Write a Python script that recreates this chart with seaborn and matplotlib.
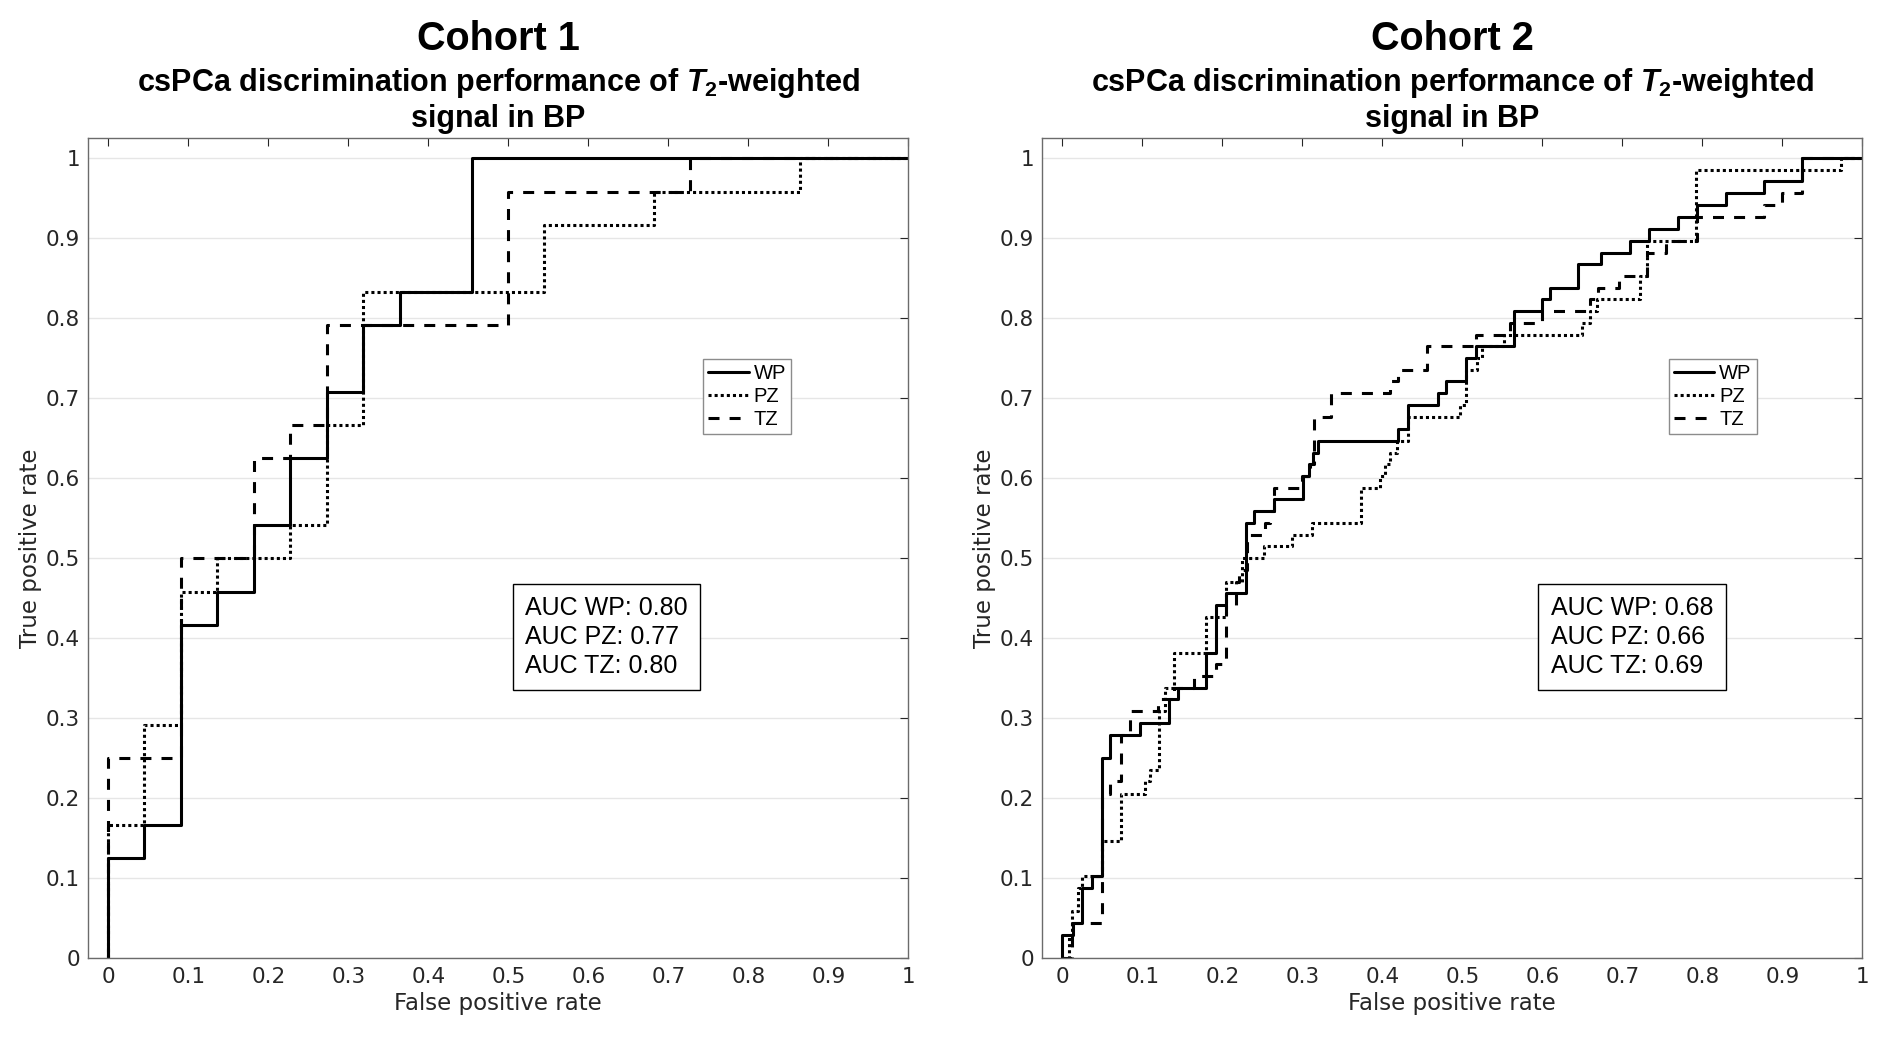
import numpy as np
import pandas as pd
import matplotlib
matplotlib.use('Agg')
import matplotlib.pyplot as plt
import seaborn as sns
from matplotlib import font_manager
from matplotlib.ticker import FuncFormatter

# ROC curves: FPR at each jump and TPR after the jump
regions = ['WP', 'PZ', 'TZ']

# Cohort 1
c1_wp_fpr = [0.0, 0.045, 0.091, 0.136, 0.182, 0.227, 0.273, 0.318, 0.364, 0.455]
c1_wp_tpr = [0.125, 0.167, 0.417, 0.458, 0.542, 0.625, 0.708, 0.792, 0.833, 1.0]
c1_pz_fpr = [0.0, 0.045, 0.091, 0.136, 0.227, 0.273, 0.318, 0.545, 0.682, 0.864]
c1_pz_tpr = [0.167, 0.292, 0.458, 0.5, 0.542, 0.667, 0.833, 0.917, 0.958, 1.0]
c1_tz_fpr = [0.0, 0.091, 0.182, 0.227, 0.273, 0.5, 0.727]
c1_tz_tpr = [0.25, 0.5, 0.625, 0.667, 0.792, 0.958, 1.0]

# Cohort 2
c2_wp_fpr = [0.0, 0.013, 0.025, 0.037, 0.049, 0.06, 0.097, 0.133, 0.145, 0.18,
             0.1925, 0.205, 0.229, 0.24, 0.265, 0.301, 0.308, 0.313, 0.32, 0.42,
             0.432, 0.469, 0.48, 0.504, 0.517, 0.565, 0.6, 0.61, 0.645, 0.673,
             0.71, 0.733, 0.77, 0.793, 0.829, 0.877, 0.925]
c2_wp_tpr = [0.029, 0.044, 0.088, 0.103, 0.25, 0.279, 0.294, 0.324, 0.338, 0.382,
             0.441, 0.456, 0.544, 0.559, 0.574, 0.603, 0.618, 0.632, 0.647, 0.662,
             0.691, 0.706, 0.721, 0.75, 0.765, 0.809, 0.824, 0.838, 0.868, 0.882,
             0.897, 0.912, 0.926, 0.941, 0.956, 0.971, 1.0]
c2_pz_fpr = [0.008, 0.012, 0.02, 0.025, 0.05, 0.073, 0.103, 0.11, 0.121, 0.128,
             0.14, 0.18, 0.204, 0.225, 0.252, 0.2875, 0.3125, 0.373, 0.397, 0.403,
             0.41, 0.418, 0.432, 0.497, 0.504, 0.518, 0.525, 0.552, 0.65, 0.66,
             0.668, 0.722, 0.731, 0.792, 0.973]
c2_pz_tpr = [0.029, 0.059, 0.088, 0.103, 0.147, 0.206, 0.221, 0.235, 0.309, 0.338,
             0.382, 0.426, 0.471, 0.5, 0.515, 0.529, 0.544, 0.588, 0.603, 0.618,
             0.632, 0.647, 0.676, 0.691, 0.735, 0.75, 0.765, 0.779, 0.794, 0.809,
             0.824, 0.853, 0.897, 0.985, 1.0]
c2_tz_fpr = [0.012, 0.049, 0.06, 0.073, 0.085, 0.12, 0.14, 0.164, 0.192, 0.204,
             0.217, 0.221, 0.231, 0.253, 0.26, 0.265, 0.3, 0.31, 0.315, 0.336,
             0.41, 0.419, 0.456, 0.517, 0.56, 0.6, 0.66, 0.67, 0.696, 0.731,
             0.754, 0.793, 0.877, 0.9, 0.925]
c2_tz_tpr = [0.044, 0.206, 0.221, 0.279, 0.309, 0.324, 0.338, 0.353, 0.368, 0.441,
             0.471, 0.485, 0.529, 0.544, 0.559, 0.588, 0.603, 0.618, 0.676, 0.706,
             0.721, 0.735, 0.765, 0.779, 0.794, 0.809, 0.824, 0.838, 0.853, 0.882,
             0.897, 0.926, 0.941, 0.956, 1.0]

auc_c1 = [0.80, 0.77, 0.80]
auc_c2 = [0.68, 0.66, 0.69]
cohorts = ['Cohort 1', 'Cohort 2']
subtitle = ['csPCa discrimination performance of $\\mathit{T}_{\\mathrm{2}}$-weighted',
            'signal in BP']


def roc_frame(curves):
    parts = []
    for reg, (fpr, tpr) in zip(regions, curves):
        parts.append(pd.DataFrame({'fpr': [0.0] + fpr + [1.0],
                                   'tpr': [0.0] + tpr + [1.0],
                                   'region': reg}))
    return pd.concat(parts, ignore_index=True)


df1 = roc_frame([(c1_wp_fpr, c1_wp_tpr), (c1_pz_fpr, c1_pz_tpr), (c1_tz_fpr, c1_tz_tpr)])
df2 = roc_frame([(c2_wp_fpr, c2_wp_tpr), (c2_pz_fpr, c2_pz_tpr), (c2_tz_fpr, c2_tz_tpr)])

sns.set_style('white')
plt.rcParams['font.family'] = ['DejaVu Sans']

# Bold condensed title font if available
installed = {f.name for f in font_manager.fontManager.ttflist}
if 'Liberation Sans Narrow' in installed:
    title_family, head_size, sub_size = 'Liberation Sans Narrow', 32, 27
else:
    title_family, head_size, sub_size = 'Liberation Sans', 28.5, 22.0
plt.rcParams['mathtext.fontset'] = 'custom'
plt.rcParams['mathtext.it'] = title_family + ':italic:bold'
plt.rcParams['mathtext.rm'] = title_family + ':bold'
plt.rcParams['mathtext.bf'] = title_family + ':bold'

fig = plt.figure(figsize=(18.96, 10.38), dpi=100)
W, H = 1896, 1038
ax_w, ax_h = 820 / W, 820 / H
bottom = (H - 958.3) / H
ax1 = fig.add_axes([88.3 / W, bottom, ax_w, ax_h])
ax2 = fig.add_axes([1042.3 / W, bottom, ax_w, ax_h])

dash_map = {'WP': '', 'PZ': (1, 1), 'TZ': (3.6, 3.3)}
text_col = '#262626'

for ax, df, aucs, name, leg_x, box_x in [(ax1, df1, auc_c1, cohorts[0], 0.75, 0.5326),
                                         (ax2, df2, auc_c2, cohorts[1], 0.764, 0.620)]:
    sns.lineplot(data=df, x='fpr', y='tpr', style='region', style_order=regions,
                 dashes=dash_map, color='black', sort=False, estimator=None,
                 drawstyle='steps-post', linewidth=2.2, legend=False, ax=ax)

    ax.set_xlim(-0.025, 1)
    ax.set_ylim(0, 1.025)
    ticks = np.round(np.arange(0, 1.01, 0.1), 1)
    ax.set_xticks(ticks)
    ax.set_yticks(ticks)
    fmt = FuncFormatter(lambda v, p: f'{v:g}')
    ax.xaxis.set_major_formatter(fmt)
    ax.yaxis.set_major_formatter(fmt)
    ax.tick_params(direction='in', top=True, right=True, length=5.5, width=0.8,
                   color=text_col, labelcolor=text_col, labelsize=15.5, pad=6)
    ax.yaxis.grid(True, color='#e6e6e6', linewidth=1)
    ax.xaxis.grid(False)
    ax.set_axisbelow(True)
    for s in ax.spines.values():
        s.set_color('#6b6b6b')
        s.set_linewidth(1.0)

    ax.set_xlabel('False positive rate', fontsize=16.5, color=text_col, labelpad=4)
    ax.set_ylabel('True positive rate', fontsize=16.5, color=text_col, labelpad=3)

    # titles
    ax.text(0.5, 1.108, name, transform=ax.transAxes, ha='center', va='baseline',
            fontsize=head_size, fontweight='bold', family=title_family, color='black')
    ax.text(0.5, 1.0576, subtitle[0], transform=ax.transAxes, ha='center', va='baseline',
            fontsize=sub_size, fontweight='bold', family=title_family, color='black')
    ax.text(0.5, 1.0135, subtitle[1], transform=ax.transAxes, ha='center', va='baseline',
            fontsize=sub_size, fontweight='bold', family=title_family, color='black')

    leg = ax.legend(ax.get_lines()[:3], regions, loc='upper left',
                    bbox_to_anchor=(leg_x, 0.731), borderaxespad=0, frameon=True,
                    fancybox=False, framealpha=1, edgecolor='#8c8c8c',
                    prop={'family': 'Liberation Sans', 'size': 14.5},
                    handlelength=2.0, handletextpad=0.25, borderpad=0.25,
                    labelspacing=0.2)
    leg.get_frame().set_linewidth(1.0)
    for t in leg.get_texts():
        t.set_color('black')

    auc_txt = '\n'.join(f'AUC {r}: {a:.2f}' for r, a in zip(regions, aucs))
    ax.text(box_x, 0.4415, auc_txt, transform=ax.transAxes, ha='left', va='top',
            fontsize=18, family='Liberation Sans', linespacing=1.25, color='black',
            bbox=dict(boxstyle='square,pad=0.5', fc='white', ec='black', lw=1))

fig.savefig('out.png', dpi=100)
